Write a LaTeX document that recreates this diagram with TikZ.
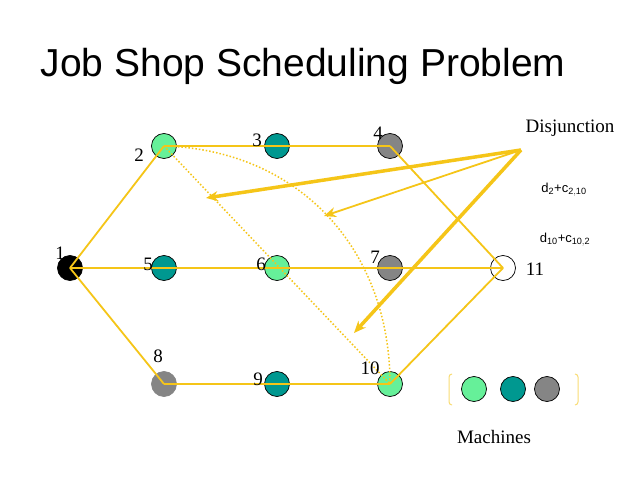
\documentclass[tikz,border=0pt]{standalone}
\usepackage{fontspec}
\setmainfont{Liberation Serif}
\setsansfont{Liberation Sans}
\usetikzlibrary{arrows.meta}
\definecolor{lg}{HTML}{66F099}
\definecolor{tl}{HTML}{009890}
\definecolor{gy}{HTML}{858585}
\definecolor{yl}{HTML}{F5C518}
\begin{document}
\begin{tikzpicture}[x=1pt,y=-1pt,
  nd/.style={circle,draw=black,line width=0.7pt,minimum size=25pt,inner sep=0pt},
  lab/.style={font=\fontsize{19}{19}\selectfont},
  ed/.style={draw=yl,line width=1.8pt},
  dot/.style={draw=yl,line width=1.5pt,dotted},
  ar/.style={draw=yl,-{Stealth[length=12pt,width=10pt]}}]
\useasboundingbox[fill=white] (0,0) rectangle (638,479);
\node[font=\sffamily\fontsize{39}{39}\selectfont] (title) at (303,66) {Job Shop Scheduling Problem};
\node[nd,fill=black] (n1) at (70,268) {};
\node[nd,fill=lg] (n2) at (164,146) {};
\node[nd,fill=tl] (n3) at (277,146) {};
\node[nd,fill=gy] (n4) at (390,146) {};
\node[nd,fill=tl] (n5) at (164,268) {};
\node[nd,fill=lg] (n6) at (277,268) {};
\node[nd,fill=gy] (n7) at (390,268) {};
\node[nd,fill=white] (n11) at (503,268) {};
\node[nd,fill=gy,draw=gy] (n8) at (164,384) {};
\node[nd,fill=tl] (n9) at (277,384) {};
\node[nd,fill=lg] (n10) at (390,384) {};
\foreach \a/\b in {n1/n2,n1/n5,n1/n8,n2/n3,n3/n4,n5/n6,n6/n7,n7/n11,n8/n9,n9/n10,n4/n11,n10/n11}
  \path[ed] (\a.center) -- (\b.center);
\path[dot] (n2.center) -- (n10.center);
\path[dot] (n2.center) .. controls (300,150) and (390,250) .. (n10.center);
\node[lab] (l1) at (60,253) {1};
\node[lab] (l2) at (139,155) {2};
\node[lab] (l3) at (257,140) {3};
\node[lab] (l4) at (378,133) {4};
\node[lab] (l5) at (148,264) {5};
\node[lab] (l6) at (261,264) {6};
\node[lab] (l7) at (375,257) {7};
\node[lab] (l8) at (158,356) {8};
\node[lab] (l9) at (258,379) {9};
\node[lab] (l10) at (370,368) {10};
\node[lab] (l11) at (535,269) {11};
\node[lab] (dis) at (570,128) {Disjunction};
\coordinate (src) at (521,150);
\coordinate (t1) at (206,198);
\coordinate (t2) at (324,216);
\coordinate (t3) at (354,333);
\path[ar,line width=3.5pt] (src) -- (t1);
\path[ar,line width=1.8pt] (src) -- (t2);
\path[ar,line width=3.5pt] (src) -- (t3);
\node[font=\sffamily\fontsize{13}{13}\selectfont] (d1) at (564,190) {d$_{\mathsf{2}}$+c$_{\mathsf{2,10}}$};
\node[font=\sffamily\fontsize{13}{13}\selectfont] (d2) at (565,240) {d$_{\mathsf{10}}$+c$_{\mathsf{10,2}}$};
\draw[yl!60,line width=1pt] (452,374) arc[start angle=90,end angle=180,radius=3pt] -- (449,402) arc[start angle=180,end angle=270,radius=3pt];
\draw[yl!60,line width=1pt] (575,374) arc[start angle=90,end angle=0,radius=3pt] -- (578,402) arc[start angle=0,end angle=-90,radius=3pt];
\node[nd,fill=lg] (m1) at (474,389) {};
\node[nd,fill=tl] (m2) at (513,389) {};
\node[nd,fill=gy] (m3) at (547,389) {};
\node[lab] (mach) at (494,437) {Machines};
\end{tikzpicture}
\end{document}
